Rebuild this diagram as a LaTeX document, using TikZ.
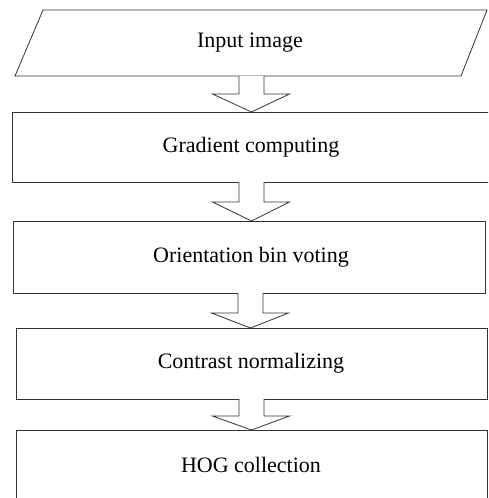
\documentclass[tikz,border=0pt]{standalone}
\usepackage{fontspec}
\setmainfont{Liberation Serif}
\usetikzlibrary{calc}
\tikzset{
  line/.style={draw=black!80, line width=0.8pt},
  label/.style={font=\fontsize{22}{26}\selectfont, inner sep=0pt},
  stage/.style={line, inner sep=0pt, outer sep=0pt},
  blockarrow/.style={line, fill=white, line join=miter},
}
% hollow block arrow: shaft at the x of #1, from the bottom of box #2
% to the top of box #3, shaft length #4
\newcommand{\hollowarrow}[4]{%
  \draw[blockarrow] let \p1=(#1), \p2=(#2.south), \p3=(#3.north) in
    (\x1-12.5pt,\y2) -- (\x1-12.5pt,\y2-#4) -- (\x1-39pt,\y2-#4)
    -- (\x1,\y3) -- (\x1+38pt,\y2-#4) -- (\x1+12.5pt,\y2-#4)
    -- (\x1+12.5pt,\y2);}
\begin{document}
\begin{tikzpicture}[x=1pt,y=-1pt]
  \useasboundingbox (0,0) rectangle (488,498);
  \clip (0,0) rectangle (488,498);
  % input parallelogram
  \coordinate (p1) at (43,10);
  \coordinate (p2) at (487,10);
  \coordinate (p3) at (461,76);
  \coordinate (p4) at (15,76);
  \draw[line] (p1) -- (p2) -- (p3) -- (p4) -- cycle;
  \node[label] (input) at (250,43) {Input image};
  % processing boxes
  \node[stage, minimum width=483pt, minimum height=70pt] (b2) at (253.5,147) {};
  \node[label] (grad) at (251,147) {Gradient computing};
  \node[stage, minimum width=472pt, minimum height=72pt] (b3) at (249,257) {};
  \node[label] (orient) at (251,257) {Orientation bin voting};
  \node[stage, minimum width=471pt, minimum height=71pt] (b4) at (251.5,363.5) {};
  \node[label] (contrast) at (251,363) {Contrast normalizing};
  \node[stage, minimum width=471pt, minimum height=80pt] (b5) at (251.5,470) {};
  \node[label] (hog) at (251,465) {HOG collection};
  % arrows between the stages
  \coordinate (b1) at (251.5,76);
  \draw[blockarrow] let \p1=(b1), \p3=(b2.north) in
    (\x1-12.5pt,\y1) -- (\x1-12.5pt,\y1-18pt) -- (\x1-39pt,\y1-18pt)
    -- (\x1,\y3) -- (\x1+38pt,\y1-18pt) -- (\x1+12.5pt,\y1-18pt)
    -- (\x1+12.5pt,\y1);
  \coordinate (x2) at (251.5,0);
  \coordinate (x3) at (250.5,0);
  \hollowarrow{x2}{b2}{b3}{20pt}
  \hollowarrow{x3}{b3}{b4}{20pt}
  \hollowarrow{x2}{b4}{b5}{17pt}
\end{tikzpicture}
\end{document}
